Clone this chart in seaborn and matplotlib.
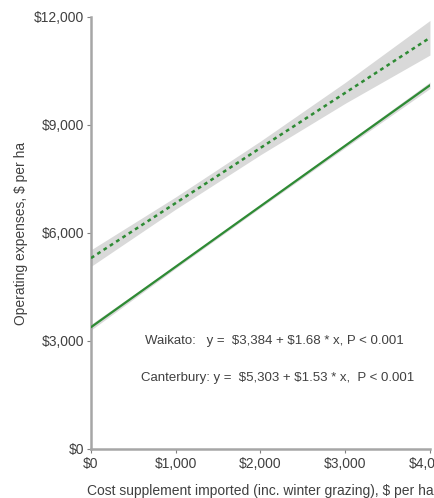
import seaborn as sns
import matplotlib.pyplot as plt
import pandas as pd

# dados
custo = [0, 1000, 2000, 3000, 4000]
waikato = [3384, 5064, 6744, 8424, 10104]
canterbury = [5303, 6833, 8363, 9893, 11423]
waikato_ic = [80, 45, 40, 55, 90]
canterbury_ic = [230, 170, 190, 290, 480]

rot_x = ['\\$0', '\\$1,000', '\\$2,000', '\\$3,000', '\\$4,000']
rot_y = ['\\$0', '\\$3,000', '\\$6,000', '\\$9,000', '\\$12,000']
eq_waikato = "Waikato:   y =  \\$3,384 + \\$1.68 * x, P < 0.001"
eq_canterbury = "Canterbury: y =  \\$5,303 + \\$1.53 * x,  P < 0.001"

sns.set_style("white")
plt.rcParams['font.family'] = ['Liberation Sans', 'DejaVu Sans']

df = pd.DataFrame({
    'x': custo * 2,
    'y': waikato + canterbury,
    'regiao': ['Waikato'] * 5 + ['Canterbury'] * 5,
})

fig = plt.figure(figsize=(4.34, 4.98), dpi=100)
ax = fig.add_axes([0.2097, 0.0984, 0.781, 0.8675])

verde = '#2e8b34'
cinza = '#d9d9d9'

# faixas de confiança
ax.fill_between(custo, [a - b for a, b in zip(canterbury, canterbury_ic)],
                [a + b for a, b in zip(canterbury, canterbury_ic)],
                color=cinza, lw=0, zorder=1)
ax.fill_between(custo, [a - b for a, b in zip(waikato, waikato_ic)],
                [a + b for a, b in zip(waikato, waikato_ic)],
                color=cinza, lw=0, zorder=1)

sns.lineplot(data=df[df.regiao == 'Waikato'], x='x', y='y', color=verde,
             lw=1.6, ax=ax, zorder=3)
sns.lineplot(data=df[df.regiao == 'Canterbury'], x='x', y='y', color=verde,
             lw=1.8, ax=ax, zorder=3, linestyle=(0, (1.5, 1.5)))

ax.set_xlim(0, 4000)
ax.set_ylim(0, 12000)
ax.set_xticks(custo)
ax.set_xticklabels(rot_x)
ax.set_yticks([0, 3000, 6000, 9000, 12000])
ax.set_yticklabels(rot_y)

for s in ['top', 'right']:
    ax.spines[s].set_visible(False)
for s in ['left', 'bottom']:
    ax.spines[s].set_color('#a6a6a6')
    ax.spines[s].set_linewidth(1.8)

ax.tick_params(axis='both', length=3, width=0.8, color='#808080',
               labelsize=10, labelcolor='#404040', direction='out',
               bottom=True, left=True)
ax.tick_params(axis='x', pad=3)
ax.tick_params(axis='y', pad=2)

ax.set_xlabel('Cost supplement imported (inc. winter grazing), \\$ per ha',
              fontsize=10, color='#404040', labelpad=9)
ax.set_ylabel('Operating expenses, \\$ per ha', fontsize=10, color='#404040',
              labelpad=4)

ax.text(637, 3000, eq_waikato, fontsize=9.5, color='#404040', va='center')
ax.text(590, 1972, eq_canterbury, fontsize=9.5, color='#404040', va='center')

fig.savefig('out.png', dpi=100)
